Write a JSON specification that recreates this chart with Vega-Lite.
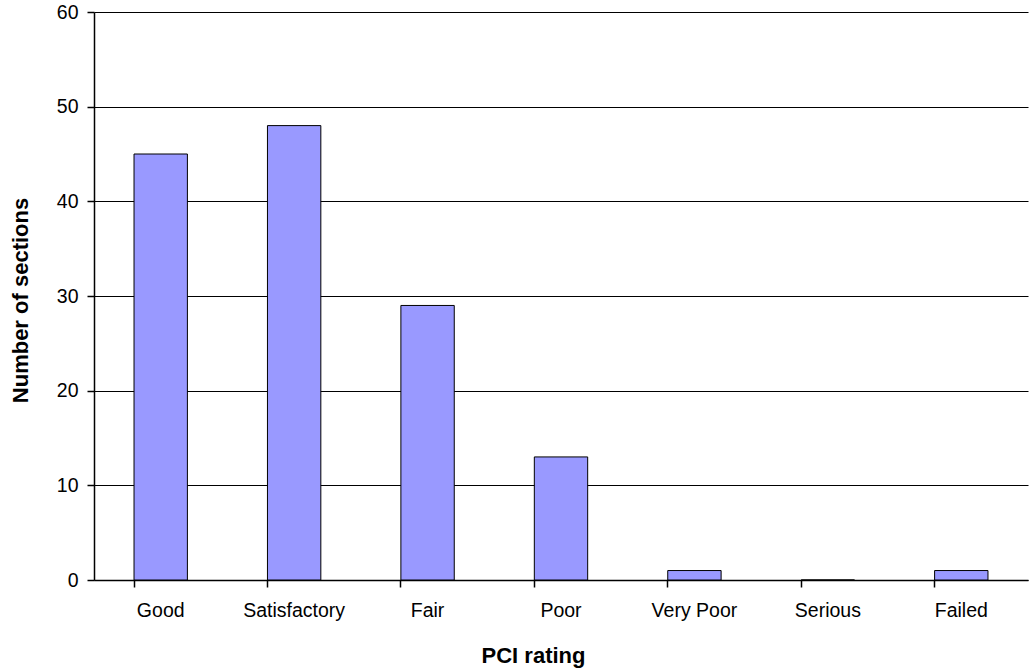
{
  "$schema": "https://vega.github.io/schema/vega-lite/v6.json",
  "autosize": "none",
  "width": 934,
  "height": 568,
  "padding": {"left": 94, "top": 12, "right": 4, "bottom": 92},
  "background": "white",
  "config": {
    "view": {"stroke": null},
    "font": "Liberation Sans"
  },
  "data": {
    "values": [
      {"rating": "Good", "sections": 45},
      {"rating": "Satisfactory", "sections": 48},
      {"rating": "Fair", "sections": 29},
      {"rating": "Poor", "sections": 13},
      {"rating": "Very Poor", "sections": 1},
      {"rating": "Serious", "sections": 0},
      {"rating": "Failed", "sections": 1}
    ]
  },
  "mark": {"type": "bar", "fill": "#9999FF", "stroke": "black", "strokeWidth": 1},
  "encoding": {
    "x": {
      "field": "rating",
      "type": "nominal",
      "sort": null,
      "scale": {"paddingInner": 0.6, "paddingOuter": 0.3},
      "axis": {
        "title": "PCI rating",
        "titleFont": "Liberation Sans",
        "titleFontSize": 22,
        "titleFontWeight": "bold",
        "titleColor": "black",
        "titlePadding": 26,
        "titleX": 439,
        "titleAlign": "center",
        "labelFont": "Liberation Sans",
        "labelFontSize": 19.5,
        "labelColor": "black",
        "labelAngle": 0,
        "labelPadding": 14,
        "bandPosition": 0,
        "domainColor": "black",
        "domainWidth": 1.5,
        "tickColor": "black",
        "tickSize": 7,
        "tickWidth": 1.5,
        "grid": false
      }
    },
    "y": {
      "field": "sections",
      "type": "quantitative",
      "scale": {"domain": [0, 60], "nice": false},
      "axis": {
        "title": "Number of sections",
        "titleFont": "Liberation Sans",
        "titleFontSize": 22,
        "titleFontWeight": "bold",
        "titleColor": "black",
        "titlePadding": 24,
        "titleY": 288,
        "labelFont": "Liberation Sans",
        "labelFontSize": 19.5,
        "labelColor": "black",
        "labelPadding": 9,
        "values": [0, 10, 20, 30, 40, 50, 60],
        "domainColor": "black",
        "domainWidth": 1.5,
        "tickColor": "black",
        "tickSize": 7,
        "tickWidth": 1.5,
        "grid": true,
        "gridColor": "black",
        "gridWidth": 1,
        "gridOpacity": 1
      }
    }
  }
}
